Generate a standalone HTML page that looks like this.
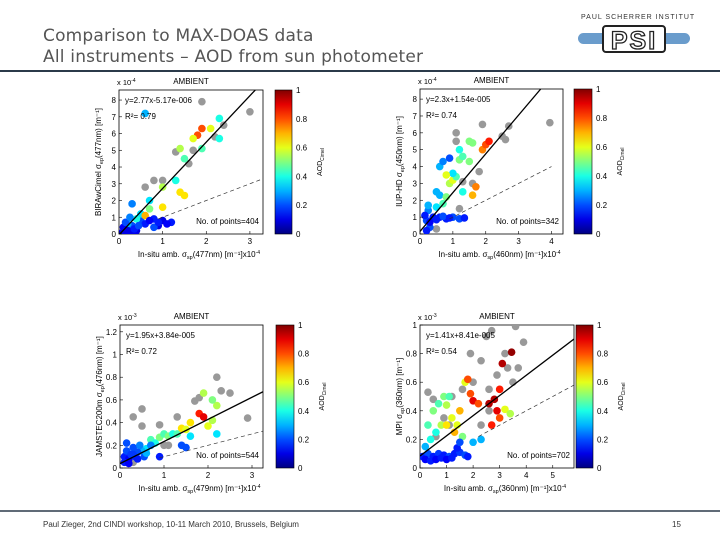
<!DOCTYPE html>
<html><head><meta charset="utf-8">
<style>
body{margin:0;background:#fff;width:720px;height:540px;overflow:hidden;font-family:"Liberation Sans",sans-serif;}
#wrap{position:relative;width:720px;height:540px;}
.title{position:absolute;left:43px;font-size:17px;color:#555;font-family:"DejaVu Sans","Liberation Sans",sans-serif;letter-spacing:0.2px}
svg text{font-family:"Liberation Sans",sans-serif;}
</style></head>
<body><div id="wrap">
<div class="title" style="top:26px">Comparison to MAX-DOAS data</div>
<div class="title" style="top:47px">All instruments – AOD from sun photometer</div>
<div style="position:absolute;left:0;top:70px;width:720px;height:2px;background:#2b3a4a"></div>
<svg width="720" height="540" style="position:absolute;left:0;top:0" id="chart">
<g>
<text x="581" y="19" font-size="7" fill="#333" letter-spacing="1">PAUL SCHERRER INSTITUT</text>
<rect x="578" y="33" width="112" height="11" rx="5.5" fill="#6a9ccc"/>
<rect x="603" y="26" width="62" height="26" rx="3" fill="#fff" stroke="#222" stroke-width="2"/>
<text x="634" y="49" font-size="25" font-weight="bold" fill="#fff" stroke="#222" stroke-width="1.3" text-anchor="middle" letter-spacing="2">PSI</text>
</g>
<line x1="0" y1="511" x2="720" y2="511" stroke="#2b3a4a" stroke-width="1.5"/>
<text x="43" y="527" font-size="8" fill="#333">Paul Zieger, 2nd CINDI workshop, 10-11 March 2010, Brussels, Belgium</text>
<text x="672" y="527" font-size="8" fill="#333">15</text>
</svg>
</div>
<script>
// Panel 1 data (x 1e-4, y 1e-4), c=-1 gray
const p1x=[0.2,0.3,0.4,0.5,0.6,0.8,1.0,1.2,0.9,0.1,0.3,0.5,0.6,0.7,0.6,0.8,1.0,1.0,1.3,1.4,1.5,1.0,1.3,1.4,1.6,1.5,1.7,1.9,1.8,1.7,1.9,2.1,2.2,2.3,2.3,2.4,1.9,3.0,0.6,0.2,0.4,0.7,0.8,0.1,0.2,0.3,0.15,0.35,0.45,0.25,0.7,0.9,1.1,0.05];
const p1y=[0.3,0.5,0.2,0.8,0.6,0.9,0.8,0.7,0.5,0.1,1.8,1.2,1.1,2.0,2.8,3.2,3.2,2.8,3.2,2.5,2.3,1.6,4.9,5.1,4.2,4.5,5.0,5.1,5.9,5.7,6.3,6.3,5.8,5.7,6.9,6.5,7.9,7.3,7.2,0.6,0.9,1.5,0.4,0.4,0.2,0.1,0.7,0.3,0.5,1.0,0.8,0.7,0.6,0.05];
const p1c=[0.15,0.2,0.1,0.2,0.15,0.15,0.1,0.15,0.1,0.1,0.25,0.35,0.7,0.35,-1,-1,-1,0.55,0.4,0.65,0.65,0.65,-1,0.55,-1,0.45,-1,0.45,0.8,0.6,0.8,0.6,-1,0.4,0.4,-1,-1,-1,0.3,0.3,0.4,0.5,0.2,0.12,0.1,0.1,0.2,0.15,0.2,0.25,0.12,0.15,0.12,0.1];
// Panel 2 data
const p2x=[0.5,0.5,0.6,0.7,0.8,0.9,1.0,1.1,0.6,0.7,0.9,1.0,1.1,1.1,1.2,1.3,1.2,1.5,1.6,1.5,1.6,1.6,1.7,1.8,1.9,2.0,2.1,1.9,2.5,2.6,2.7,3.95,1.2,0.3,0.2,0.25,0.4,0.6,0.8,1.0,1.2,1.35,0.5,0.2,1.3,1.3,0.8,0.15,0.3,0.5,0.7,0.9,0.25];
const p2y=[1.6,2.5,2.3,1.8,2.2,3.0,3.2,3.4,4.0,4.3,4.5,3.6,6.0,5.5,4.4,4.6,5.0,5.5,5.4,4.3,3.0,2.3,2.8,3.7,5.0,5.3,5.5,6.5,5.8,5.6,6.4,6.6,1.5,0.4,0.8,1.4,1.0,1.0,0.9,1.0,0.9,0.95,0.3,0.2,2.5,3.1,3.5,1.1,0.7,0.85,1.05,0.95,1.7];
const p2c=[0.35,0.3,0.3,0.45,0.5,0.55,0.6,0.45,0.3,0.25,0.2,0.35,-1,-1,0.5,0.45,0.4,0.5,0.5,0.5,-1,0.7,0.75,-1,0.75,0.8,0.85,-1,-1,-1,-1,-1,-1,0.2,0.2,0.25,0.15,0.15,0.15,0.2,0.2,0.15,-1,0.15,0.4,-1,0.6,0.15,0.12,0.15,0.2,0.15,0.3];
// Panel 3 data (x 1e-4, y 1e-3)
const p3x=[0.3,0.5,0.5,0.9,0.7,0.8,0.9,1.0,1.1,1.2,1.3,1.4,1.5,1.6,1.3,1.7,1.8,1.9,1.8,1.9,2.0,2.1,2.2,2.1,2.2,2.3,2.5,2.2,2.9,1.6,1.4,1.5,0.9,1.0,1.1,0.3,0.6,0.5,0.1,0.15,0.2,0.25,0.3,0.35,0.4,0.45,0.1,0.2,0.3,0.4,0.55,0.6,0.7,0.15];
const p3y=[0.45,0.52,0.37,0.38,0.25,0.22,0.27,0.3,0.28,0.3,0.3,0.35,0.34,0.4,0.45,0.59,0.62,0.66,0.48,0.45,0.37,0.42,0.55,0.6,0.3,0.68,0.66,0.8,0.44,0.28,0.2,0.18,0.1,0.2,0.2,0.05,0.17,0.15,0.1,0.15,0.08,0.12,0.18,0.1,0.14,0.2,0.05,0.04,0.12,0.08,0.1,0.13,0.2,0.22];
const p3c=[-1,-1,-1,-1,0.45,0.4,0.5,0.45,0.5,0.4,0.45,0.65,0.6,0.65,-1,-1,-1,0.55,0.85,0.9,0.6,0.55,0.55,0.5,0.35,-1,-1,-1,-1,0.35,0.2,0.2,0.15,-1,-1,-1,0.35,0.3,0.15,0.2,0.12,0.18,0.2,0.15,0.2,0.25,0.15,0.12,0.18,0.15,0.2,0.3,0.25,0.2];
// Panel 4 data (x 1e-4, y 1e-3)
const p4x=[0.6,0.3,0.5,1.2,1.6,1.9,2.3,2.5,2.7,3.6,3.9,3.2,3.3,2.9,2.6,3.5,3.7,2.0,0.9,1.1,2.3,2.6,0.5,0.7,0.9,1.0,1.1,0.8,1.0,1.2,1.3,1.4,0.6,0.4,1.5,1.7,1.8,1.9,2.0,2.2,2.6,2.8,2.9,3.0,2.7,3.2,3.4,3.0,3.1,3.45,2.3,2.0,1.6,0.3,0.2,0.1,0.3,0.5,0.7,0.9,1.1,1.3,1.5,1.7,1.8,0.2,0.4,0.6,0.8,1.0,1.2,1.4,1.5];
const p4y=[0.22,0.53,0.48,0.5,0.55,0.8,0.75,0.92,0.96,0.99,0.88,0.8,0.7,0.65,0.55,0.6,0.7,0.6,0.35,0.3,0.3,0.4,0.4,0.45,0.5,0.44,0.5,0.3,0.3,0.35,0.25,0.3,0.25,0.2,0.4,0.6,0.62,0.52,0.47,0.45,0.45,0.48,0.4,0.35,0.3,0.41,0.38,0.55,0.73,0.81,0.2,0.18,0.22,0.3,0.15,0.08,0.1,0.08,0.1,0.09,0.08,0.1,0.11,0.09,0.08,0.06,0.05,0.06,0.07,0.06,0.07,0.14,0.18];
const p4c=[-1,-1,-1,-1,-1,-1,-1,-1,-1,-1,-1,-1,-1,-1,-1,-1,-1,-1,-1,-1,-1,-1,0.5,0.45,0.5,0.55,0.45,0.55,0.65,0.6,0.7,0.6,0.4,0.4,0.7,0.6,0.8,0.8,0.9,0.8,0.95,0.95,0.9,0.8,0.85,0.6,0.55,0.85,0.95,0.98,0.3,0.3,0.5,0.45,0.3,0.15,0.2,0.15,0.18,0.15,0.2,0.15,0.18,0.2,0.15,0.12,0.15,0.12,0.15,0.12,0.15,0.15,0.2];
// fit lines in plotted axis units [slope, intercept]
const fits=[[2.77,-0.0517],[2.3,0.154],[0.195,0.0384],[0.141,0.0841]];
const cbTicks=['0','0.2','0.4','0.6','0.8','1'];

const panels=[
 {x:p1x,y:p1y,c:p1c,fit:fits[0],L:119,R:263,T:90,B:234,xmax:3.3,ymax:8.6,cb:[275,292],xt:[0,1,2,3],yt:[0,1,2,3,4,5,6,7,8],exp:'-4',ylab:'BIRAwCimel σ',ysub:'ep',ysuf:'(477nm)  [m⁻¹]',xl:'477nm',eq:'y=2.77x-5.17e-006',r2:'R²= 0.79',n:'No. of points=404',d1:[0.9,3.3]},
 {x:p2x,y:p2y,c:p2c,fit:fits[1],L:420,R:563,T:89,B:234,xmax:4.35,ymax:8.6,cb:[574,592],xt:[0,1,2,3,4],yt:[0,1,2,3,4,5,6,7,8],exp:'-4',ylab:'IUP-HD σ',ysub:'ep',ysuf:'(450nm)  [m⁻¹]',xl:'460nm',eq:'y=2.3x+1.54e-005',r2:'R²= 0.74',n:'No. of points=342',d1:[0.9,4]},
 {x:p3x,y:p3y,c:p3c,fit:fits[2],L:120,R:263,T:325,B:468,xmax:3.25,ymax:1.26,cb:[276,294],xt:[0,1,2,3],yt:[0,0.2,0.4,0.6,0.8,1,1.2],exp:'-3',ylab:'JAMSTEC200m σ',ysub:'ep',ysuf:'(476nm)  [m⁻¹]',xl:'479nm',eq:'y=1.95x+3.84e-005',r2:'R²= 0.72',n:'No. of points=544',d1:[0.9,3.25],yscale:0.1},
 {x:p4x,y:p4y,c:p4c,fit:fits[3],L:420,R:574,T:325,B:468,xmax:5.8,ymax:1.0,cb:[576,593],xt:[0,1,2,3,4,5],yt:[0,0.2,0.4,0.6,0.8,1],exp:'-3',ylab:'MPI σ',ysub:'ep',ysuf:'(360nm)  [m⁻¹]',xl:'360nm',eq:'y=1.41x+8.41e-005',r2:'R²= 0.54',n:'No. of points=702',d1:[2.2,5.8],yscale:0.1}
];
const svg=document.getElementById('chart');
const NS='http://www.w3.org/2000/svg';
function mk(tag,attrs,parent){const e=document.createElementNS(NS,tag);for(const k in attrs)e.setAttribute(k,attrs[k]);(parent||svg).appendChild(e);return e;}
function jet(v){const f=t=>Math.max(0,Math.min(1,1.5-Math.abs(t)));const r=f(4*v-3),g=f(4*v-2),b=f(4*v-1);return `rgb(${Math.round(r*255)},${Math.round(g*255)},${Math.round(b*255)})`;}
const defs=mk('defs',{});
panels.forEach((p,i)=>{
 const g=mk('g',{});
 
 
 const sx=v=>p.L+(v/p.xmax)*(p.R-p.L), sy=v=>p.B-(v/p.ymax)*(p.B-p.T);
 const cp=mk('clipPath',{id:'cp'+i},defs);mk('rect',{x:p.L,y:p.T,width:p.R-p.L,height:p.B-p.T},cp);
 const box=mk('rect',{x:p.L,y:p.T,width:p.R-p.L,height:p.B-p.T,fill:'#fff',stroke:'#000','stroke-width':0.8},g);
 
 const pts=mk('g',{'clip-path':`url(#cp${i})`},g);
 
 const order=p.x.map((_,k)=>k).sort((a,b)=>(p.c[a]<0?-1:0)-(p.c[b]<0?-1:0));
 order.forEach(k=>{const c=mk('circle',{cx:sx(p.x[k]),cy:sy(p.y[k]),r:3.8,fill:p.c[k]<0?'#999':jet(p.c[k])},pts);
  });
 const ys=p.yscale||1;
 const fx2=Math.min(p.xmax,(p.ymax-p.fit[1])/p.fit[0]);
 const fl=mk('line',{x1:sx(0),y1:sy(p.fit[1]),x2:sx(fx2),y2:sy(p.fit[0]*fx2+p.fit[1]),stroke:'#000','stroke-width':1.3,'clip-path':`url(#cp${i})`},g);
 
 const dl=mk('line',{x1:sx(p.d1[0]),y1:sy(p.d1[0]*ys),x2:sx(p.d1[1]),y2:sy(p.d1[1]*ys),stroke:'#333','stroke-width':0.7,'stroke-dasharray':'4,3'},g);
 
 p.xt.forEach(t=>{mk('line',{x1:sx(t),x2:sx(t),y1:p.B,y2:p.B-3,stroke:'#000','stroke-width':0.6},g);
  const tx=mk('text',{x:sx(t),y:p.B+10,'font-size':8,'text-anchor':'middle'},g);tx.textContent=t;
  });
 p.yt.forEach(t=>{mk('line',{x1:p.L,x2:p.L+3,y1:sy(t),y2:sy(t),stroke:'#000','stroke-width':0.6},g);
  const tx=mk('text',{x:p.L-3,y:sy(t)+3,'font-size':8,'text-anchor':'end'},g);tx.textContent=t;
  });
 const ex=mk('text',{x:p.L-2,y:p.T-5,'font-size':7.5},g);ex.innerHTML=`x 10<tspan dy="-3" font-size="5">${p.exp}</tspan>`;
 
 const ti=mk('text',{x:(p.L+p.R)/2,y:p.T-6,'font-size':8,'text-anchor':'middle'},g);ti.textContent='AMBIENT';
 
 const eq=mk('text',{x:p.L+6,y:p.T+13,'font-size':8},g);eq.textContent=p.eq;
 
 const r2=mk('text',{x:p.L+6,y:p.T+29,'font-size':8},g);r2.textContent=p.r2;
 
 const nn=mk('text',{x:p.R-4,y:p.B-10,'font-size':8,'text-anchor':'end'},g);nn.textContent=p.n;
 
 const xl=mk('text',{x:(p.L+p.R)/2+8,y:p.B+23,'font-size':8,'text-anchor':'middle'},g);
 xl.innerHTML=`In-situ amb. σ<tspan dy="2" font-size="5.5">sp</tspan><tspan dy="-2">(${p.xl})  [m⁻¹]</tspan><tspan>x10</tspan><tspan dy="-3" font-size="5">-4</tspan>`;
 
 const yl=mk('text',{transform:`translate(${p.L-18},${(p.T+p.B)/2}) rotate(-90)`,'font-size':8,'text-anchor':'middle'},g);
 yl.innerHTML=`${p.ylab}<tspan dy="2" font-size="5.5">${p.ysub}</tspan><tspan dy="-2">${p.ysuf}</tspan>`;
 
 const gid='jg'+i;const lg=mk('linearGradient',{id:gid,x1:0,y1:1,x2:0,y2:0},defs);
 for(let s=0;s<=10;s++)mk('stop',{offset:s/10,'stop-color':jet(s/10)},lg);
 const cb=mk('rect',{x:p.cb[0],y:p.T,width:p.cb[1]-p.cb[0],height:p.B-p.T,fill:`url(#${gid})`,stroke:'#000','stroke-width':0.6},g);
 
 cbTicks.forEach((t,k)=>{const y=p.B-k/5*(p.B-p.T);
  const tx=mk('text',{x:p.cb[1]+4,y:y+3,'font-size':8},g);tx.textContent=t;
  });
 const cl=mk('text',{transform:`translate(${p.cb[1]+30},${(p.T+p.B)/2}) rotate(-90)`,'font-size':7,'text-anchor':'middle'},g);
 cl.innerHTML=`AOD<tspan dy="2" font-size="5">Cimel</tspan>`;
 
});
</script>
</body></html>
